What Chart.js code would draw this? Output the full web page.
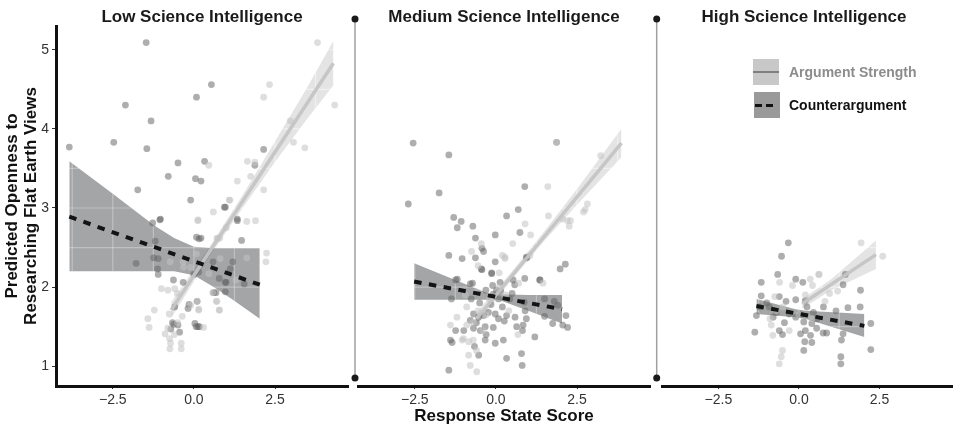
<!DOCTYPE html>
<html>
<head>
<meta charset="utf-8">
<script src="https://cdn.jsdelivr.net/npm/chart.js@4.4.1/dist/chart.umd.min.js"></script>
<style>
  html, body { margin: 0; padding: 0; background: #fff; }
  #wrap { position: relative; width: 956px; height: 429px; overflow: hidden; font-family: 'Liberation Sans', Arial, sans-serif; }
  .panel { position: absolute; top: 0; height: 429px; }
  .ptitle { position: absolute; top: 7px; font-weight: bold; font-size: 17px; line-height: 20px; color: #1a1a1a; transform: translateX(-50%); white-space: nowrap; }
  .key { position: absolute; width: 26px; height: 26px; }
  .ltext { position: absolute; font-weight: bold; font-size: 14px; line-height: 18px; white-space: nowrap; }
</style>
</head>
<body>
<div id="wrap">
  <div class="panel" style="left:0;width:352px"><canvas id="low"></canvas></div>
  <div class="panel" style="left:348px;width:306px"><canvas id="med"></canvas></div>
  <div class="panel" style="left:648px;width:308px"><canvas id="high"></canvas></div>

  <div class="ptitle" id="t0" style="left:202px"></div>
  <div class="ptitle" id="t1" style="left:504px"></div>
  <div class="ptitle" id="t2" style="left:804px"></div>

  <!-- legend -->
  <div class="key" style="left:753px;top:59px;background:#c8c8c8">
    <div style="position:absolute;left:0;right:0;top:12px;height:2px;background:#7f7f7f"></div>
  </div>
  <div class="ltext" id="l0" style="left:789px;top:63px;color:#8c8c8c"></div>
  <div class="key" style="left:754px;top:92px;background:#9a9a9a">
    <div style="position:absolute;left:1px;width:19px;top:12px;height:3px;background:repeating-linear-gradient(to right,#111 0 7px,transparent 7px 11px)"></div>
  </div>
  <div class="ltext" id="l1" style="left:789px;top:96px;color:#111"></div>
</div>

<script>
// tick labels / titles
const xTicks = [-2.5, 0, 2.5];
const yTicks = [1, 2, 3, 4, 5];
const gridX = [-3.75, -2.5, -1.25, 0, 1.25, 2.5, 3.75];
const gridY = [1, 1.5, 2, 2.5, 3, 3.5, 4, 4.5, 5];
const panelTitles = ['Low Science Intelligence', 'Medium Science Intelligence', 'High Science Intelligence'];
const seriesNames = ['Argument Strength', 'Counterargument'];
const xTitle = 'Response State Score';
const yTitle = ['Predicted Openness to', 'Researching Flat Earth Views'];

// ---- Low science intelligence ----
const lowArgPts = [[4.34,4.30],[3.81,5.09],[3.07,3.83],[3.42,3.76],[2.97,4.10],[2.15,4.40],[2.33,4.56],[2.15,3.23],[1.65,3.59],[1.75,3.40],[1.88,3.58],[1.34,3.34],[1.11,3.10],[0.46,3.54],[0.12,2.84],[1.90,2.84],[1.63,2.83],[0.13,2.85],[0.71,2.62],[0.80,2.62],[-0.73,2.32],[-0.33,2.32],[0.08,2.42],[0.81,2.36],[1.63,2.37],[2.24,2.43],[2.22,2.32],[-0.32,2.25],[-0.10,2.25],[0.46,2.17],[1.30,2.09],[-0.59,1.98],[-1.00,1.98],[-0.80,1.96],[-0.51,1.92],[0.69,1.82],[0.10,1.82],[-0.76,1.66],[-0.36,1.63],[0.15,1.71],[0.79,1.71],[-1.22,1.71],[-1.42,1.60],[-1.38,1.49],[-0.89,1.41],[-0.80,1.48],[-0.75,1.35],[-0.39,1.29],[-0.74,1.22],[-0.39,1.22],[-0.72,1.29],[-0.10,1.77],[0.30,1.49],[0.15,1.72],[0.58,1.93],[0.71,1.82],[0.78,1.71],[1.09,3.10],[0.73,2.61],[1.00,2.75],[0.60,2.95],[-0.50,1.55],[-0.60,1.40]];
const lowCtrPts = [[-1.47,5.09],[-3.84,3.77],[-2.11,4.30],[-2.47,3.83],[-1.32,4.10],[-1.45,3.75],[-1.73,3.23],[-0.79,3.40],[-0.49,3.57],[0.08,4.40],[0.54,4.56],[-0.10,3.10],[0.05,3.37],[0.22,3.34],[0.33,3.59],[0.97,3.01],[1.88,3.54],[2.15,3.74],[1.34,2.86],[-1.03,2.86],[1.47,2.59],[-1.27,2.81],[0.08,2.63],[0.22,2.62],[-1.19,2.58],[-1.24,2.37],[-1.10,2.36],[-1.78,2.30],[1.20,2.32],[-1.12,2.23],[-1.10,2.16],[0.15,2.19],[0.00,2.16],[0.59,2.32],[1.12,2.23],[0.78,2.11],[0.97,2.06],[1.55,2.04],[-0.63,2.09],[-0.33,2.06],[0.61,1.93],[-0.15,1.78],[-0.18,1.73],[-0.59,1.75],[-0.66,1.55],[-0.62,1.53],[0.03,1.54],[0.13,1.50],[-0.71,1.47],[-0.49,1.52],[-0.44,1.43],[0.07,1.50],[0.17,1.50],[0.10,1.82],[0.97,1.94],[0.99,2.06],[0.94,3.01],[1.34,2.84],[-1.05,2.85],[0.16,2.61],[0.68,1.93]];
const lowArgLineX = [-0.70, 4.30];
const lowArgLineY = [1.71, 4.83];
const lowArgBandX = [-0.70, 0.50, 1.50, 2.50, 3.50, 4.30];
const lowArgBandHi = [1.81, 2.52, 3.16, 3.84, 4.53, 5.11];
const lowArgBandLo = [1.61, 2.40, 3.00, 3.58, 4.13, 4.55];
const lowCtrLineX = [-3.84, 2.03];
const lowCtrLineY = [2.89, 2.03];
const lowCtrBandX = [-3.84, -2.50, -1.22, -0.61, 0.00, 0.61, 1.20, 2.03];
const lowCtrBandHi = [3.59, 3.18, 2.78, 2.62, 2.51, 2.49, 2.49, 2.49];
const lowCtrBandLo = [2.20, 2.20, 2.20, 2.20, 2.15, 2.00, 1.84, 1.60];

// ---- Medium science intelligence ----
const medArgPts = [[1.87,3.83],[1.60,3.27],[1.07,2.66],[1.62,2.90],[2.21,2.84],[2.30,2.84],[2.82,3.05],[2.75,2.98],[3.23,3.66],[2.26,2.77],[2.05,2.86],[2.70,2.95],[0.28,2.36],[1.05,2.40],[0.28,2.38],[-0.55,2.27],[0.10,2.18],[1.45,2.05],[0.70,2.05],[-0.94,1.90],[-0.60,1.94],[-0.90,1.52],[-1.40,1.52],[-1.04,1.33],[-0.84,1.31],[-0.70,1.33],[-0.84,1.14],[-0.79,1.01],[-1.00,1.35],[-0.59,0.93],[0.68,1.40],[-0.55,1.70],[-0.90,1.75],[0.10,2.00],[0.30,1.90],[-0.30,1.65],[-0.60,1.20],[0.20,2.40],[0.52,2.55],[0.90,2.80],[-0.75,2.45],[-0.45,2.55],[-0.20,1.85],[-1.20,1.62],[-0.40,1.45],[0.40,1.70],[-0.70,1.55]];
const medCtrPts = [[-2.55,3.82],[1.87,3.83],[-1.45,3.67],[-1.75,3.19],[-2.70,3.05],[0.89,3.27],[0.69,2.98],[0.33,2.90],[-1.30,2.88],[-1.07,2.83],[-1.19,2.75],[-0.71,2.77],[-0.63,2.62],[-0.02,2.66],[0.74,2.69],[-0.43,2.49],[-0.38,2.45],[-0.63,2.37],[-1.04,2.36],[-1.45,2.40],[0.96,2.37],[2.14,2.29],[1.98,2.23],[1.36,2.09],[-0.13,2.18],[-0.45,2.23],[0.13,2.06],[-1.24,2.09],[-0.02,2.32],[-0.43,2.22],[-0.13,2.17],[0.94,2.38],[0.53,2.09],[0.58,2.03],[0.89,2.11],[1.35,2.09],[-1.19,2.10],[-0.79,2.04],[-0.72,2.05],[-0.31,1.96],[0.02,1.96],[-0.08,1.91],[0.08,1.85],[-1.37,1.85],[-0.76,1.85],[0.43,1.85],[0.50,1.92],[0.87,1.81],[1.50,1.85],[1.80,1.82],[1.91,1.77],[2.16,1.64],[2.21,1.49],[2.06,1.52],[1.75,1.54],[1.50,1.63],[0.94,1.60],[0.84,1.52],[0.59,1.62],[0.33,1.64],[0.26,1.57],[0.08,1.60],[-0.02,1.66],[-0.23,1.68],[-0.38,1.64],[-0.53,1.62],[-0.69,1.66],[-0.79,1.58],[-0.69,1.48],[-0.48,1.45],[-0.33,1.50],[-0.08,1.49],[-0.99,1.45],[-1.24,1.45],[-0.66,1.25],[-0.33,1.33],[-0.53,1.14],[-1.40,1.33],[-1.35,1.30],[-0.02,1.29],[0.23,1.33],[0.33,1.10],[0.79,1.16],[0.81,1.01],[1.20,1.37],[0.64,1.50],[0.82,1.45],[0.90,1.70],[-1.45,0.95],[-0.50,1.80],[-0.15,1.78],[0.20,1.75],[-0.60,1.55],[-0.30,1.40],[-0.10,2.02],[0.15,1.95]];
const medArgLineX = [-0.60, 3.87];
const medArgLineY = [1.60, 3.82];
const medArgBandX = [-0.60, 0.50, 1.50, 2.50, 3.87];
const medArgBandHi = [1.68, 2.20, 2.71, 3.24, 4.00];
const medArgBandLo = [1.52, 2.10, 2.59, 3.04, 3.64];
const medCtrLineX = [-2.52, 2.04];
const medCtrLineY = [2.07, 1.72];
const medCtrBandX = [-2.52, -1.50, -0.23, 0.08, 1.00, 2.04];
const medCtrBandHi = [2.30, 2.13, 1.92, 1.91, 1.90, 1.90];
const medCtrBandLo = [1.84, 1.84, 1.84, 1.84, 1.70, 1.54];

// ---- High science intelligence ----
const highArgPts = [[1.93,2.56],[2.60,2.39],[0.63,2.16],[0.61,2.16],[0.35,2.10],[0.42,2.02],[-0.20,2.02],[-0.60,2.06],[0.81,1.82],[0.95,1.92],[-0.75,1.88],[-0.70,1.70],[-0.86,1.52],[-0.81,1.39],[0.40,1.60],[-0.51,1.20],[-0.61,1.03],[-0.55,1.12],[-0.90,1.60],[-0.50,1.75],[-0.30,1.45],[0.00,1.65],[1.20,1.95],[0.20,1.90]];
const highCtrPts = [[-0.33,2.56],[-0.54,2.39],[-0.66,2.16],[-1.17,2.06],[-0.10,2.10],[0.12,2.06],[1.44,2.16],[1.37,2.03],[1.91,1.96],[-1.17,1.89],[-0.61,1.88],[-0.40,1.82],[-0.10,1.84],[0.20,1.83],[0.25,1.75],[0.76,1.75],[1.52,1.74],[1.90,1.75],[1.15,1.70],[2.23,1.54],[-1.32,1.64],[-1.37,1.43],[-1.22,1.75],[-0.92,1.75],[-0.70,1.68],[-0.61,1.45],[-0.51,1.40],[-0.30,1.66],[-0.10,1.62],[0.06,1.65],[0.15,1.56],[0.40,1.54],[0.56,1.60],[0.05,1.41],[0.20,1.45],[0.36,1.39],[0.75,1.42],[0.86,1.42],[0.55,1.48],[0.40,1.30],[0.18,1.31],[0.15,1.20],[1.37,1.41],[1.32,1.33],[2.23,1.21],[1.30,1.12],[1.30,1.03],[-1.00,1.80],[-0.80,1.62],[0.45,1.68],[-0.45,1.55]];
const highArgLineX = [0.10, 2.39];
const highArgLineY = [1.79, 2.41];
const highArgBandX = [0.10, 1.00, 2.39];
const highArgBandHi = [1.85, 2.10, 2.59];
const highArgBandLo = [1.73, 1.96, 2.23];
const highCtrLineX = [-1.32, 2.03];
const highCtrLineY = [1.76, 1.51];
const highCtrBandX = [-1.32, -0.10, 0.20, 2.03];
const highCtrBandHi = [1.85, 1.72, 1.70, 1.66];
const highCtrBandLo = [1.66, 1.62, 1.60, 1.37];

Chart.defaults.font.family = "'Liberation Sans', Arial, sans-serif";

document.getElementById('t0').textContent = panelTitles[0];
document.getElementById('t1').textContent = panelTitles[1];
document.getElementById('t2').textContent = panelTitles[2];
document.getElementById('l0').textContent = seriesNames[0];
document.getElementById('l1').textContent = seriesNames[1];

function xy(xs, ys) {
  return xs.map((x, i) => ({ x: x, y: ys[i] }));
}
function pts(arr) {
  return arr.map(p => ({ x: p[0], y: p[1] }));
}
function fmtX(v) {
  return (v < 0 ? '\u2212' : '') + Math.abs(v).toFixed(1);
}

// light grid lines only show through the ribbons
const bandGrid = {
  id: 'bandGrid',
  afterDatasetDraw(chart, args) {
    const ds = chart.data.datasets[args.index];
    if (!ds.gridBand) return;
    const hi = args.meta.data;
    const lo = chart.getDatasetMeta(args.index + 1).data;
    const ctx = chart.ctx;
    const xs = chart.scales.x, ys = chart.scales.y;
    const area = chart.chartArea;
    ctx.save();
    ctx.beginPath();
    hi.forEach((p, i) => i ? ctx.lineTo(p.x, p.y) : ctx.moveTo(p.x, p.y));
    for (let i = lo.length - 1; i >= 0; i--) ctx.lineTo(lo[i].x, lo[i].y);
    ctx.closePath();
    ctx.clip();
    ctx.strokeStyle = ds.gridColor;
    ctx.lineWidth = 1.2;
    gridX.forEach(v => {
      const px = xs.getPixelForValue(v);
      ctx.beginPath(); ctx.moveTo(px, area.top); ctx.lineTo(px, area.bottom); ctx.stroke();
    });
    gridY.forEach(v => {
      const py = ys.getPixelForValue(v);
      ctx.beginPath(); ctx.moveTo(area.left, py); ctx.lineTo(area.right, py); ctx.stroke();
    });
    ctx.restore();
  }
};

// thin grey separator with dots at both ends
const divider = {
  id: 'divider',
  afterDraw(chart, args, opts) {
    if (!opts.show) return;
    const ctx = chart.ctx;
    const a = chart.chartArea;
    const x = a.left - opts.gap;
    const y0 = a.top - 7, y1 = a.bottom - 8;
    ctx.save();
    ctx.strokeStyle = '#a0a0a0';
    ctx.lineWidth = 1.5;
    ctx.beginPath(); ctx.moveTo(x, y0); ctx.lineTo(x, y1); ctx.stroke();
    ctx.fillStyle = '#1a1a1a';
    [y0, y1].forEach(y => { ctx.beginPath(); ctx.arc(x, y, 3.5, 0, Math.PI * 2); ctx.fill(); });
    ctx.restore();
  }
};

function band(xs, hi, lo, color, gridColor, order) {
  return [
    { data: xy(xs, hi), showLine: true, borderWidth: 0, borderColor: 'rgba(0,0,0,0)', pointRadius: 0,
      fill: '+1', backgroundColor: color, order: order, gridBand: true, gridColor: gridColor },
    { data: xy(xs, lo), showLine: true, borderWidth: 0, borderColor: 'rgba(0,0,0,0)', pointRadius: 0,
      fill: false, order: order }
  ];
}

function makePanel(id, p, idx) {
  const first = idx === 0;
  const datasets = [].concat(
    band(p.argBandX, p.argBandHi, p.argBandLo, 'rgba(170,170,170,0.32)', 'rgba(255,255,255,0.45)', 9),
    band(p.ctrBandX, p.ctrBandHi, p.ctrBandLo, 'rgba(72,76,78,0.5)', 'rgba(255,255,255,0.3)', 8),
    [
      { data: pts(p.ctrPts), showLine: false, pointRadius: 3.4, pointBorderWidth: 0,
        pointBackgroundColor: 'rgba(100,100,100,0.52)', order: 6 },
      { data: pts(p.argPts), showLine: false, pointRadius: 3.4, pointBorderWidth: 0,
        pointBackgroundColor: 'rgba(195,195,195,0.55)', order: 5 },
      { data: xy(p.argLineX, p.argLineY), showLine: true, borderColor: 'rgba(196,196,196,0.95)',
        borderWidth: 3.5, pointRadius: 0, fill: false, order: 2 },
      { data: xy(p.ctrLineX, p.ctrLineY), showLine: true, borderColor: '#141414',
        borderWidth: 4, borderDash: [7.5, 7.5], pointRadius: 0, fill: false, order: 1 }
    ]
  );

  return new Chart(document.getElementById(id), {
    type: 'line',
    data: { datasets: datasets },
    options: {
      responsive: true,
      maintainAspectRatio: false,
      animation: false,
      events: [],
      layout: { padding: { top: 26, left: p.padLeft, right: p.padRight, bottom: 0 } },
      plugins: {
        legend: { display: false },
        tooltip: { enabled: false },
        divider: { show: !first, gap: p.gap }
      },
      scales: {
        x: {
          type: 'linear', min: -4.25, max: 4.75,
          afterBuildTicks: s => { s.ticks = xTicks.map(v => ({ value: v })); },
          afterFit: s => { s.height = 43; },
          grid: { display: true, drawOnChartArea: false, drawTicks: true, tickLength: 3, color: '#333' },
          border: { display: true, color: '#111', width: 3 },
          ticks: { font: { size: 14 }, color: '#333', padding: 3, maxRotation: 0, autoSkip: false, callback: v => fmtX(v) },
          title: {
            display: idx === 1, text: xTitle, color: '#111',
            font: { size: 17, weight: 'bold', lineHeight: 1.12 }, padding: { top: 0, bottom: 3 }
          }
        },
        y: {
          type: 'linear', min: 0.75, max: 5.3, display: first,
          afterBuildTicks: s => { s.ticks = yTicks.map(v => ({ value: v })); },
          afterFit: s => { s.width = first ? 56 : 0; },
          grid: { display: true, drawOnChartArea: false, drawTicks: true, tickLength: 4, color: '#333' },
          border: { display: true, color: '#111', width: 3 },
          ticks: { font: { size: 14 }, color: '#333', padding: 3, callback: v => String(v) },
          title: {
            display: true, text: yTitle, color: '#111',
            font: { size: 17, weight: 'bold', lineHeight: 1.12 }, padding: { top: 3, bottom: 0 }
          }
        }
      }
    },
    plugins: [bandGrid, divider]
  });
}

const lowChart = makePanel('low', {
  argPts: lowArgPts, ctrPts: lowCtrPts,
  argLineX: lowArgLineX, argLineY: lowArgLineY, argBandX: lowArgBandX, argBandHi: lowArgBandHi, argBandLo: lowArgBandLo,
  ctrLineX: lowCtrLineX, ctrLineY: lowCtrLineY, ctrBandX: lowCtrBandX, ctrBandHi: lowCtrBandHi, ctrBandLo: lowCtrBandLo,
  padLeft: 0, padRight: 1, gap: 0
}, 0);

const medChart = makePanel('med', {
  argPts: medArgPts, ctrPts: medCtrPts,
  argLineX: medArgLineX, argLineY: medArgLineY, argBandX: medArgBandX, argBandHi: medArgBandHi, argBandLo: medArgBandLo,
  ctrLineX: medCtrLineX, ctrLineY: medCtrLineY, ctrBandX: medCtrBandX, ctrBandHi: medCtrBandHi, ctrBandLo: medCtrBandLo,
  padLeft: 10, padRight: 0, gap: 3
}, 1);

const highChart = makePanel('high', {
  argPts: highArgPts, ctrPts: highCtrPts,
  argLineX: highArgLineX, argLineY: highArgLineY, argBandX: highArgBandX, argBandHi: highArgBandHi, argBandLo: highArgBandLo,
  ctrLineX: highCtrLineX, ctrLineY: highCtrLineY, ctrBandX: highCtrBandX, ctrBandHi: highCtrBandHi, ctrBandLo: highCtrBandLo,
  padLeft: 14, padRight: 0, gap: 5.3
}, 2);
</script>
</body>
</html>
